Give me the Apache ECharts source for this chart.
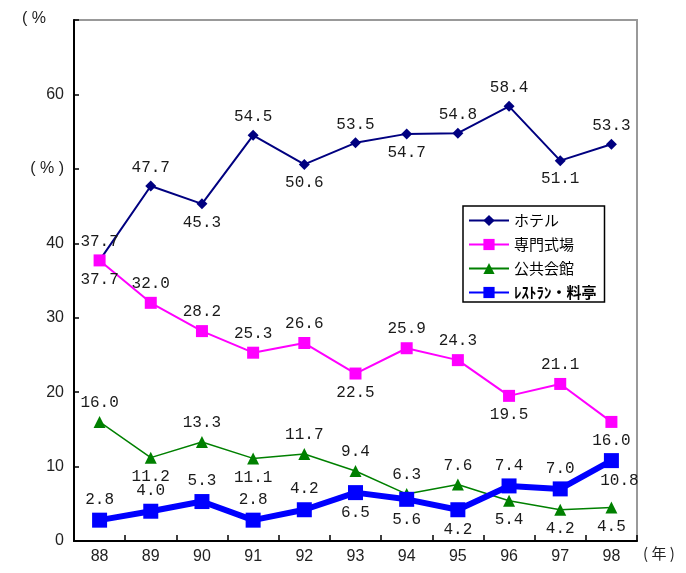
<!DOCTYPE html>
<html>
<head>
<meta charset="utf-8">
<script src="https://cdn.jsdelivr.net/npm/echarts@6/dist/echarts.min.js"></script>
<style>
  html, body { margin: 0; padding: 0; background: #fff; }
  #chart { width: 686px; height: 573px; }
</style>
</head>
<body>
<div id="chart"></div>
<script>
// 年
const years = ["88", "89", "90", "91", "92", "93", "94", "95", "96", "97", "98"];

// 会場別の割合 (%)
const hotel = [37.7, 47.7, 45.3, 54.5, 50.6, 53.5, 54.7, 54.8, 58.4, 51.1, 53.3];
const senmon = [37.7, 32.0, 28.2, 25.3, 26.6, 22.5, 25.9, 24.3, 19.5, 21.1, 16.0];
const kokyo = [16.0, 11.2, 13.3, 11.1, 11.7, 9.4, 6.3, 7.6, 5.4, 4.2, 4.5];
const restaurant = [2.8, 4.0, 5.3, 2.8, 4.2, 6.5, 5.6, 4.2, 7.4, 7.0, 10.8];

// ラベル位置 (t = 上, b = 下)
const hotelPos = ["t", "t", "b", "t", "b", "t", "b", "t", "t", "b", "t"];
const senmonPos = ["b", "t", "t", "t", "t", "b", "t", "t", "b", "t", "b"];
const kokyoPos = ["t", "b", "t", "b", "t", "t", "t", "t", "b", "b", "b"];
const restPos = ["t", "t", "t", "t", "t", "b", "b", "b", "t", "t", "b"];

const labelFont = {
  fontFamily: "Liberation Mono",
  fontSize: 16,
  color: "#1a1a1a",
};

function withLabels(values, pos, extra) {
  return values.map((v, i) => {
    const item = {
      value: v,
      label: {
        show: true,
        position: pos[i] === "t" ? "top" : "bottom",
        formatter: (p) => p.value.toFixed(1),
        ...labelFont,
      },
    };
    if (extra && extra[i]) Object.assign(item.label, extra[i]);
    return item;
  });
}

var myChart = echarts.init(document.getElementById("chart"));

var option = {
  backgroundColor: "#fff",
  animation: false,
  grid: {
    left: 74,
    right: 49,
    top: 20,
    bottom: 32,
    show: true,
    borderColor: "#999",
    borderWidth: 2,
  },
  legend: {
    orient: "vertical",
    left: 463,
    top: 206,
    width: 150,
    padding: [7, 8, 2, 5],
    backgroundColor: "#fff",
    borderColor: "#000",
    borderWidth: 1.5,
    borderRadius: 0,
    itemWidth: 40,
    itemHeight: 14,
    itemGap: 9,
    textStyle: {
      fontFamily: "Noto Sans CJK JP",
      fontSize: 15,
      color: "#000",
    },
    data: [
      { name: "ホテル" },
      { name: "専門式場" },
      { name: "公共会館" },
      { name: "ﾚｽﾄﾗﾝ・料亭", textStyle: { fontWeight: "bold" } },
    ],
  },
  xAxis: {
    type: "category",
    data: years,
    axisLine: { show: true, lineStyle: { color: "#000", width: 2 } },
    axisTick: { show: true, inside: true, length: 6, lineStyle: { color: "#000", width: 1.5 } },
    axisLabel: {
      margin: 8,
      fontFamily: "Liberation Sans",
      fontSize: 16,
      color: "#222",
    },
  },
  yAxis: {
    type: "value",
    min: 0,
    max: 70,
    interval: 10,
    axisLine: { show: true, lineStyle: { color: "#000", width: 2 } },
    axisTick: { show: true, inside: true, length: 5, lineStyle: { color: "#000", width: 1.5 } },
    splitLine: { show: false },
    axisLabel: {
      margin: 10,
      fontFamily: "Liberation Sans",
      fontSize: 16,
      color: "#222",
      formatter: function (v) {
        if (v === 50) return "( % )";
        if (v === 70) return "";
        return v;
      },
    },
  },
  graphic: [
    {
      type: "text",
      left: 22,
      top: 11,
      style: { text: "( %", fontFamily: "Liberation Sans", fontSize: 16, fill: "#222" },
    },
    {
      type: "text",
      left: 643,
      top: 546,
      style: { text: "( 年 )", fontFamily: "Noto Sans CJK JP", fontSize: 15, fill: "#222" },
    },
  ],
  series: [
    {
      name: "ホテル",
      type: "line",
      data: withLabels(hotel, hotelPos),
      symbol: "diamond",
      symbolSize: 11,
      itemStyle: { color: "#000080" },
      lineStyle: { color: "#000080", width: 2 },
      z: 3,
    },
    {
      name: "専門式場",
      type: "line",
      data: withLabels(senmon, senmonPos),
      symbol: "rect",
      symbolSize: 12,
      itemStyle: { color: "#ff00ff" },
      lineStyle: { color: "#ff00ff", width: 2 },
      z: 4,
    },
    {
      name: "公共会館",
      type: "line",
      data: withLabels(kokyo, kokyoPos),
      symbol: "triangle",
      symbolSize: 12,
      itemStyle: { color: "#008000" },
      lineStyle: { color: "#008000", width: 1.5 },
      z: 3,
    },
    {
      name: "ﾚｽﾄﾗﾝ・料亭",
      type: "line",
      data: withLabels(restaurant, restPos, { 10: { offset: [8, 0] } }),
      symbol: "rect",
      symbolSize: 15,
      itemStyle: { color: "#0000ff" },
      lineStyle: { color: "#0000ff", width: 6 },
      z: 5,
    },
  ],
};

option && myChart.setOption(option);
</script>
</body>
</html>
